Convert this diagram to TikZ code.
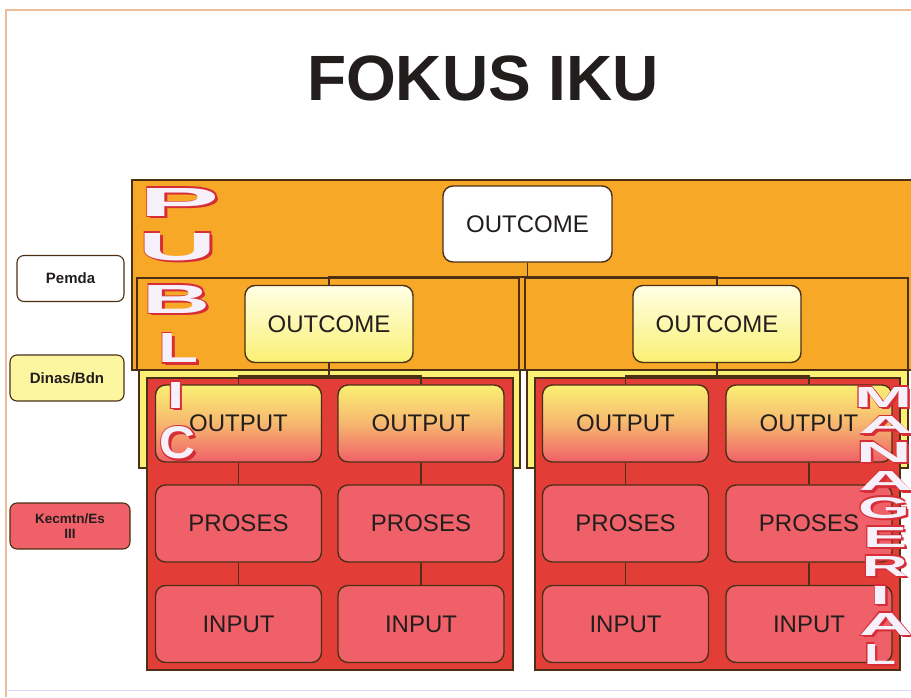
\documentclass[tikz,border=0pt]{standalone}
\usepackage{fontspec}
\usepackage{graphicx}
\setmainfont{Liberation Sans}
\definecolor{orng}{RGB}{246,168,38}
\definecolor{brd}{RGB}{75,48,22}
\definecolor{yel}{RGB}{250,240,115}
\definecolor{lyel}{RGB}{252,246,160}
\definecolor{redr}{RGB}{226,62,55}
\definecolor{pinkb}{RGB}{240,96,104}
\definecolor{txt}{RGB}{35,30,30}
\definecolor{framec}{RGB}{238,188,150}
\definecolor{shred}{RGB}{215,45,55}
\definecolor{wlet}{RGB}{246,240,250}
\newcommand\wart[6]{%
  \node[inner sep=0pt,text=shred] (sh-#6) at (#1+2.5,#2+2.5) {\resizebox{#3pt}{#4pt}{\bfseries #5}};
  \node[inner sep=0pt,text=shred] (ol-#6) at (#1,#2) {\resizebox{\dimexpr#3pt+3pt\relax}{\dimexpr#4pt+3pt\relax}{\bfseries #5}};
  \node[inner sep=0pt,text=wlet] (lt-#6) at (#1,#2) {\resizebox{#3pt}{#4pt}{\bfseries #5}};}
\begin{document}
\begin{tikzpicture}[x=1pt,y=-1pt,
  region/.style={draw=brd,line width=1.2pt},
  box/.style={draw=brd,line width=1.4pt,rounded corners=10pt,minimum width=166pt,minimum height=77pt,inner sep=0pt,text=txt,font=\fontsize{24}{24}\selectfont},
  lbl/.style={draw=brd,line width=1.1pt,rounded corners=7pt,minimum height=46pt,inner sep=0pt,text=txt,font=\fontsize{15}{16}\selectfont\bfseries,align=center},
  conn/.style={draw=brd,line width=1.8pt},
  ocbox/.style={box,top color=white!90!yellow,bottom color=yel},
  opbox/.style={box,top color=yel,bottom color=pinkb,middle color=yel!60!pinkb},
  rdbox/.style={box,fill=pinkb}]
\useasboundingbox (0,0) rectangle (911,697);
\fill[white] (0,0) rectangle (911,697);
% page frame
\draw[framec,line width=1.2pt] (6,697) -- (6,10) -- (911,10);
\draw[blue!15,line width=1pt] (6,690) -- (911,690);
% title
\node[text=txt,font=\fontsize{64}{64}\selectfont\bfseries] (title) at (483,78) {FOKUS IKU};
% regions
\draw[region,fill=yel] (139,365) rectangle (520,468);
\draw[region,fill=yel] (527,365) rectangle (908,468);
\draw[region,fill=orng] (132,180) rectangle (916,370);
\draw[region,fill=orng] (137,278) rectangle (519,370);
\draw[region,fill=orng] (525,278) rectangle (908,370);
\draw[region,fill=redr] (147,378) rectangle (513,670);
\draw[region,fill=redr] (535,378) rectangle (900,670);
% boxes
\node[box,fill=white,minimum width=169pt,minimum height=76pt] (top) at (527.5,224) {OUTCOME};
\node[ocbox,minimum width=168pt] (ocL) at (329,324) {OUTCOME};
\node[ocbox,minimum width=168pt] (ocR) at (717,324) {OUTCOME};
\node[opbox] (opL1) at (238.5,423.5) {OUTPUT};
\node[opbox] (opL2) at (421,423.5) {OUTPUT};
\node[opbox] (opR1) at (625.5,423.5) {OUTPUT};
\node[opbox] (opR2) at (809,423.5) {OUTPUT};
\node[rdbox] (prL1) at (238.5,523.5) {PROSES};
\node[rdbox] (prL2) at (421,523.5) {PROSES};
\node[rdbox] (prR1) at (625.5,523.5) {PROSES};
\node[rdbox] (prR2) at (809,523.5) {PROSES};
\node[rdbox] (inL1) at (238.5,624) {INPUT};
\node[rdbox] (inL2) at (421,624) {INPUT};
\node[rdbox] (inR1) at (625.5,624) {INPUT};
\node[rdbox] (inR2) at (809,624) {INPUT};
% connectors
\draw[conn] (top.south) -- ++(0,14) -| (ocL.north);
\draw[conn] (top.south) -- ++(0,14) -| (ocR.north);
\draw[conn] (ocL.south) -- ++(0,12.5) -| (opL1.north);
\draw[conn] (ocL.south) -- ++(0,12.5) -| (opL2.north);
\draw[conn] (ocR.south) -- ++(0,12.5) -| (opR1.north);
\draw[conn] (ocR.south) -- ++(0,12.5) -| (opR2.north);
\foreach \c in {L1,L2,R1,R2}{
  \draw[conn] (op\c.south) -- (pr\c.north);
  \draw[conn] (pr\c.south) -- (in\c.north);
}
% side labels
\node[lbl,fill=white,minimum width=107pt] (pemda) at (70.5,278.5) {Pemda};
\node[lbl,fill=lyel,minimum width=114pt] (dinas) at (67,378) {Dinas/Bdn};
\node[lbl,fill=pinkb,minimum width=120pt,font=\fontsize{13.5}{15}\selectfont\bfseries] (kec) at (70,526) {Kecmtn/Es\\III};
% PUBLIC
\wart{180}{202}{80}{28}{P}{p1}
\wart{178}{247}{78}{27}{U}{p2}
\wart{177}{299}{68}{28}{B}{p3}
\wart{179}{348}{40}{29}{L}{p4}
\wart{176}{395}{17}{26}{I}{p5}
\wart{178}{443}{36}{32}{C}{p6}
% MANAGERIAL
\wart{883}{397}{58}{20}{M}{m1}
\wart{886}{425}{54}{17}{A}{m2}
\wart{884}{452}{56}{20}{N}{m3}
\wart{886}{481}{54}{19}{A}{m4}
\wart{884}{508}{52}{21}{G}{m5}
\wart{885}{537}{44}{20}{E}{m6}
\wart{885}{566}{46}{20}{R}{m7}
\wart{880}{595}{20}{18}{I}{m8}
\wart{886}{624}{54}{22}{A}{m9}
\wart{880}{654}{32}{20}{L}{m10}
\end{tikzpicture}
\end{document}
